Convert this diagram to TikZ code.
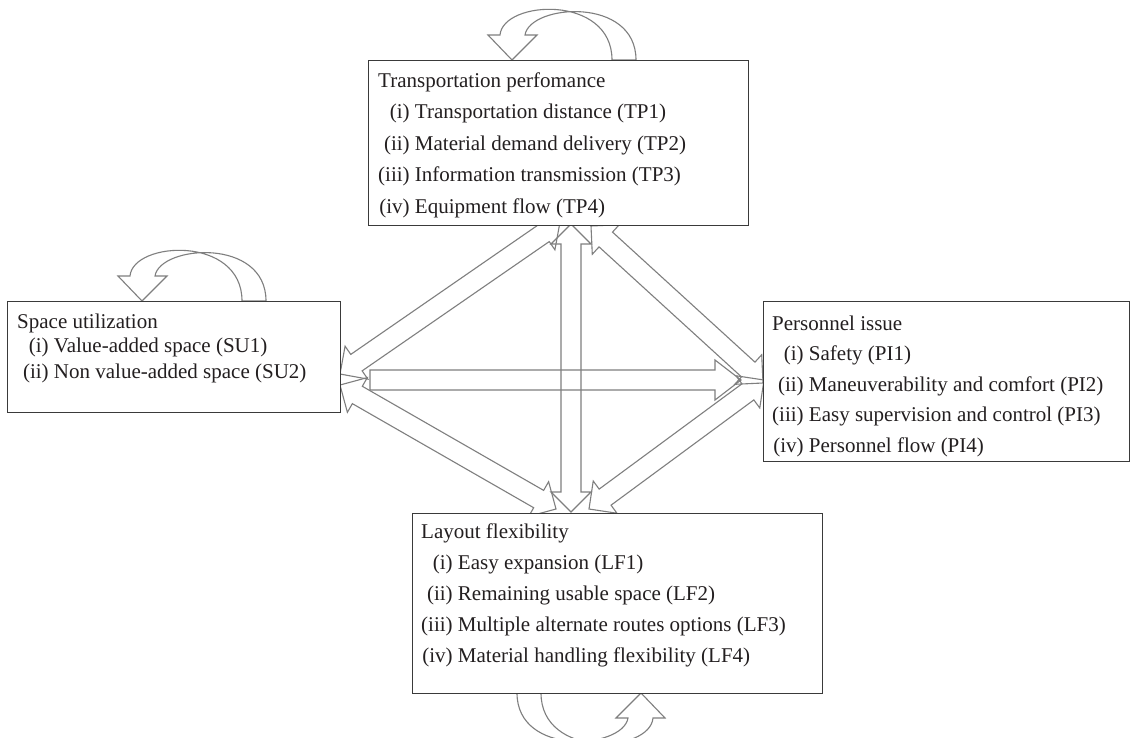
\documentclass[tikz,border=0pt]{standalone}
\usepackage{fontspec}
\setmainfont{Liberation Serif}
\usetikzlibrary{calc}
\definecolor{boxline}{HTML}{3A3A3A}
\definecolor{arrline}{HTML}{7F7F7F}
\definecolor{txtc}{HTML}{231F20}
\tikzset{
  panel/.style={draw=boxline, line width=1.4pt, fill=white, inner sep=0pt, anchor=north west},
  txt/.style={inner sep=0pt, anchor=base west, text=txtc, font=\fontsize{21}{25}\selectfont},
  arr/.style={draw=arrline, line width=1.1pt, line join=miter},
}
\newcommand\itemtext[2]{\makebox[31.5pt][r]{#1}\ #2}
\newcommand\dblarr[2]{%
  \draw[arr] (#1) -- ($(#1)!20pt!(#2)!20pt!90:(#2)$) -- ($(#1)!20pt!(#2)!10pt!90:(#2)$)
    -- ($(#2)!20pt!(#1)!10pt!-90:(#1)$) -- ($(#2)!20pt!(#1)!20pt!-90:(#1)$) -- (#2)
    -- ($(#2)!20pt!(#1)!20pt!90:(#1)$) -- ($(#2)!20pt!(#1)!10pt!90:(#1)$)
    -- ($(#1)!20pt!(#2)!10pt!-90:(#2)$) -- ($(#1)!20pt!(#2)!20pt!-90:(#2)$) -- cycle;}
\newcommand\loopshape{%
  (0,0) -- (25,-25) -- (13,-25) .. controls (18,-56) and (124,-64) .. (124,0) -- (100,0)
  .. controls (100,-66) and (-9,-60) .. (-12,-25) -- (-24,-25) -- cycle}
\begin{document}
\begin{tikzpicture}[x=1pt,y=-1pt]
\useasboundingbox (0,0) rectangle (1136,737);
\clip (0,0) rectangle (1136,737);
\fill[white] (0,0) rectangle (1136,737);

% self-loop anchors
\coordinate (tploop) at (512,60);
\coordinate (suloop) at (142,301);
\coordinate (lfloop) at (641,693);
\begin{scope}[shift={(tploop)}] \draw[arr] \loopshape; \end{scope}
\begin{scope}[shift={(suloop)}] \draw[arr] \loopshape; \end{scope}
\begin{scope}[shift={(lfloop)}, rotate=180] \draw[arr] \loopshape; \end{scope}

% arrow end points
\coordinate (a1) at (340,374); \coordinate (a2) at (560,222);
\coordinate (b1) at (571,224); \coordinate (b2) at (571,512);
\coordinate (c1) at (591,226); \coordinate (c2) at (763,383);
\coordinate (d1) at (370,380); \coordinate (d2) at (741,380);
\coordinate (e1) at (340,385); \coordinate (e2) at (556,509);
\coordinate (f1) at (589,509); \coordinate (f2) at (764,380);

\dblarr{a1}{a2}
\dblarr{b1}{b2}
\dblarr{c1}{c2}
\dblarr{e1}{e2}
\dblarr{f1}{f2}
\draw[arr] ($(d1)!10pt!90:(d2)$) -- ($(d2)!26pt!(d1)!10pt!-90:(d1)$) -- ($(d2)!26pt!(d1)!20pt!-90:(d1)$)
  -- (d2) -- ($(d2)!26pt!(d1)!20pt!90:(d1)$) -- ($(d2)!26pt!(d1)!10pt!90:(d1)$)
  -- ($(d1)!10pt!-90:(d2)$) -- cycle;

% boxes
\node[panel, minimum width=380pt, minimum height=165pt] (tp) at (368,60) {};
\node[panel, minimum width=333pt, minimum height=111pt] (su) at (7,301) {};
\node[panel, minimum width=366pt, minimum height=160pt] (pi) at (763,301) {};
\node[panel, minimum width=410pt, minimum height=180pt] (lf) at (412,513) {};

% texts
\node[txt] (tp0) at (378,87) {Transportation perfomance};
\node[txt] (tp1) at (378,118.5) {\itemtext{(i)}{Transportation distance (TP1)}};
\node[txt] (tp2) at (378,150) {\itemtext{(ii)}{Material demand delivery (TP2)}};
\node[txt] (tp3) at (378,181.5) {\itemtext{(iii)}{Information transmission (TP3)}};
\node[txt] (tp4) at (378,213) {\itemtext{(iv)}{Equipment flow (TP4)}};

\node[txt] (su0) at (17,328) {Space utilization};
\node[txt] (su1) at (17,352.5) {\itemtext{(i)}{Value-added space (SU1)}};
\node[txt] (su2) at (17,378) {\itemtext{(ii)}{Non value-added space (SU2)}};

\node[txt] (pi0) at (772,330) {Personnel issue};
\node[txt] (pi1) at (772,360.5) {\itemtext{(i)}{Safety (PI1)}};
\node[txt] (pi2) at (772,391) {\itemtext{(ii)}{Maneuverability and comfort (PI2)}};
\node[txt] (pi3) at (772,421.5) {\itemtext{(iii)}{Easy supervision and control (PI3)}};
\node[txt] (pi4) at (772,452) {\itemtext{(iv)}{Personnel flow (PI4)}};

\node[txt] (lf0) at (421,538) {Layout flexibility};
\node[txt] (lf1) at (421,569) {\itemtext{(i)}{Easy expansion (LF1)}};
\node[txt] (lf2) at (421,600) {\itemtext{(ii)}{Remaining usable space (LF2)}};
\node[txt] (lf3) at (421,631) {\itemtext{(iii)}{Multiple alternate routes options (LF3)}};
\node[txt] (lf4) at (421,662) {\itemtext{(iv)}{Material handling flexibility (LF4)}};
\end{tikzpicture}
\end{document}
